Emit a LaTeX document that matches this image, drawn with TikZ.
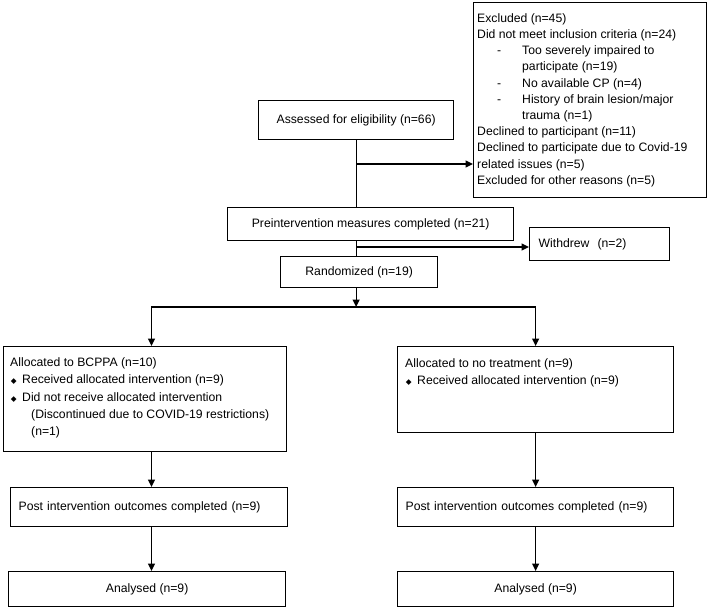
\documentclass[tikz,border=0pt]{standalone}
\usepackage{fontspec}
\setmainfont{Liberation Sans}
\newfontfamily\symfont{DejaVu Sans}
\usetikzlibrary{arrows.meta}
\newcommand{\mybul}{\hspace*{1pt}\makebox[5pt][c]{\symfont\fontsize{7.5}{7.5}\selectfont ◆}\hspace*{6pt}}
\newcommand{\mydash}{\hspace*{20pt}\makebox[25pt][l]{-}}
\tikzset{
  box/.style={draw, line width=1.3pt, anchor=north west, inner sep=0pt, font=\fontsize{12.2}{14}\selectfont, align=center},
  lbox/.style={box, align=left},
  blocktxt/.style={anchor=north west, inner sep=0pt, align=left},
  ln/.style={line width=1.3pt},
  arr/.style={line width=1.3pt, -{Triangle[length=7.5pt,width=7pt]}},
}
\begin{document}
\begin{tikzpicture}[x=1pt,y=-1pt]
\useasboundingbox (0,0) rectangle (708,608);
% boxes
\node[box, minimum width=233pt, minimum height=195pt] (excl) at (473,2) {};
\node[blocktxt, font=\fontsize{12.2}{16.2}\selectfont] (excltxt) at (477,13) {\rule{0pt}{9pt}Excluded (n=45)\\
Did not meet inclusion criteria (n=24)\\
\mydash Too severely impaired to\\
\hspace*{45pt}participate (n=19)\\
\mydash No available CP (n=4)\\
\mydash History of brain lesion/major\\
\hspace*{45pt}trauma (n=1)\\
Declined to participant (n=11)\\
Declined to participate due to Covid-19\\
related issues (n=5)\\
Excluded for other reasons (n=5)};

\node[box, minimum width=195pt, minimum height=39pt] (assess) at (258,100) {Assessed for eligibility (n=66)};
\node[box, minimum width=286pt, minimum height=33pt] (pre) at (227,207) {Preintervention measures completed (n=21)};
\node[lbox, minimum height=33pt, text width=122pt, inner xsep=9pt] (withdrew) at (529,227) {Withdrew\ \ (n=2)};
\node[box, minimum width=157pt, minimum height=31pt] (rand) at (280,256) {Randomized (n=19)};

\node[box, minimum width=283pt, minimum height=105pt] (bcppa) at (3,346) {};
\node[blocktxt, font=\fontsize{12.2}{17.4}\selectfont] (bcppatxt) at (10,357) {\rule{0pt}{9pt}Allocated to BCPPA (n=10)\\
\mybul Received allocated intervention (n=9)\\
\mybul Did not receive allocated intervention\\
\hspace*{21pt}(Discontinued due to COVID-19 restrictions)\\
\hspace*{21pt}(n=1)};

\node[box, minimum width=276pt, minimum height=86pt] (notrt) at (397,346) {};
\node[blocktxt, font=\fontsize{12.2}{17.2}\selectfont] (notrttxt) at (405,358) {\rule{0pt}{9pt}Allocated to no treatment (n=9)\\
\mybul Received allocated intervention (n=9)};

\node[lbox, minimum height=39pt, text width=261pt, inner xsep=8pt] (post1) at (10,487) {Post intervention outcomes completed (n=9)};
\node[lbox, minimum height=39pt, text width=260pt, inner xsep=8pt] (post2) at (397,487) {Post intervention outcomes completed (n=9)};
\node[box, minimum width=277pt, minimum height=35pt] (an1) at (8,571) {Analysed (n=9)};
\node[box, minimum width=276pt, minimum height=35pt] (an2) at (397,571) {Analysed (n=9)};

% connectors
\coordinate (split) at (assess.south |- 0,307);
\coordinate (lcol) at (151.5,307);
\draw[ln] (assess.south) -- (assess.south |- pre.north);
\draw[arr] (assess.south |- 0,164) -- (excl.west |- 0,164);
\draw[ln] (pre.south -| assess.south) -- (rand.north -| assess.south);
\draw[arr] (assess.south |- 0,247) -- (withdrew.west |- 0,247);
\draw[arr] (rand.south -| split) -- (split);
\draw[arr] (split) -| (bcppa.north -| lcol);
\draw[arr] (split) -| (notrt.north);
\draw[arr] (bcppa.south -| lcol) -- (post1.north -| lcol);
\draw[arr] (post1.south -| lcol) -- (an1.north -| lcol);
\draw[arr] (notrt.south) -- (post2.north);
\draw[arr] (post2.south) -- (an2.north);
\end{tikzpicture}
\end{document}
